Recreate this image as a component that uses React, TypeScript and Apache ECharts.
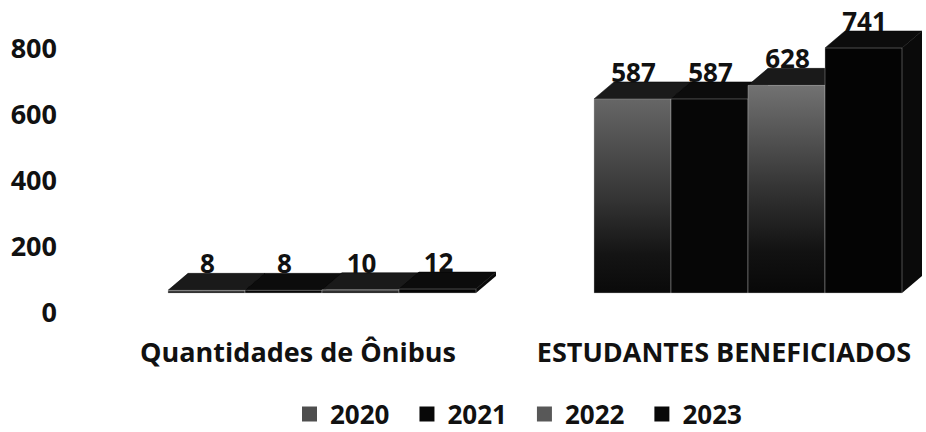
import React, { useEffect, useRef } from "react";
import * as echarts from "echarts";

const CATEGORIES = ["Quantidades de Ônibus", "ESTUDANTES BENEFICIADOS"];
const YEARS = ["2020", "2021", "2022", "2023"];
const V2020 = [8, 587];
const V2021 = [8, 587];
const V2022 = [10, 628];
const V2023 = [12, 741];
const SERIES_VALUES = [V2020, V2021, V2022, V2023];
const Y_MIN = 0;
const Y_MAX = 800;
const Y_INTERVAL = 200;

const FONT = '"Open Sans", "Noto Sans", sans-serif';
const DX = 20;
const DY = -17;
const GROUP_RATIO = 0.723;

const frontFills = [
  () => new echarts.graphic.LinearGradient(0, 0, 0, 1, [
    { offset: 0, color: "#666666" },
    { offset: 0.5, color: "#363636" },
    { offset: 0.8, color: "#141414" },
    { offset: 1, color: "#0a0a0a" },
  ]),
  () => "#060606",
  () => new echarts.graphic.LinearGradient(0, 0, 0, 1, [
    { offset: 0, color: "#727272" },
    { offset: 0.5, color: "#333333" },
    { offset: 0.8, color: "#121212" },
    { offset: 1, color: "#080808" },
  ]),
  () => "#040404",
];
const legendColors = ["#4e4e4e", "#080808", "#585858", "#080808"];

function makeRender(si: number) {
  return (params: any, api: any) => {
    const cat = api.value(0);
    const val = api.value(1);
    const base = api.coord([cat, 0]);
    const top = api.coord([cat, val]);
    const band = api.size([1, 0])[0];
    const groupW = band * GROUP_RATIO;
    const bw = groupW / 4;
    const x0 = base[0] - groupW / 2 + si * bw;
    const x1 = x0 + bw;
    const yb = base[1];
    const yt = top[1];
    return {
      type: "group",
      children: [
        {
          type: "polygon",
          shape: { points: [[x1, yt], [x1 + DX, yt + DY], [x1 + DX, yb + DY], [x1, yb]] },
          style: { fill: "#0a0a0a" },
        },
        {
          type: "polygon",
          shape: { points: [[x0, yt], [x0 + DX, yt + DY], [x1 + DX, yt + DY], [x1, yt]] },
          style: { fill: si % 2 === 0 ? "#1a1a1a" : "#0c0c0c", stroke: "#000", lineWidth: 0.5 },
        },
        {
          type: "rect",
          shape: { x: x0, y: yt, width: bw, height: Math.max(yb - yt, 0) },
          style: { fill: frontFills[si](), stroke: "#bbbbbb", lineWidth: 0.4 },
        },
        {
          type: "text",
          style: {
            text: String(val),
            x: x0 + bw / 2 + 1,
            y: yt + DY + 3,
            align: "center",
            verticalAlign: "bottom",
            fontSize: 26,
            fontWeight: "bold",
            fontFamily: FONT,
            fill: "#111",
          },
        },
      ],
    };
  };
}

export default function App() {
  const ref = useRef<HTMLDivElement>(null);
  useEffect(() => {
    document.body.style.margin = "0";
    if (!ref.current) return;
    const chart = echarts.init(ref.current, null, { renderer: "svg" });
    const catRich = { fontSize: 27, fontWeight: "bold", fontFamily: FONT, color: "#111", padding: [0, 48, 0, 0] };
    chart.setOption({
      animation: false,
      backgroundColor: "#ffffff",
      legend: {
        top: 400,
        left: 302,
        icon: "rect",
        itemWidth: 15,
        itemHeight: 15,
        itemGap: 30,
        padding: 0,
        data: YEARS,
        textStyle: {
          fontSize: 26,
          lineHeight: 28,
          fontWeight: "bold",
          fontFamily: FONT,
          color: "#111",
          padding: [0, 0, 0, 8],
        },
      },
      grid: [
        { left: 322, width: 426, top: 28.5, height: 264.5, outerBoundsMode: "none", containLabel: false },
        { left: 65, width: 10, top: 47, height: 264, outerBoundsMode: "none", containLabel: false },
      ],
      xAxis: [
        {
          gridIndex: 0,
          type: "category",
          data: CATEGORIES,
          boundaryGap: false,
          axisLine: { show: false },
          axisTick: { show: false },
          axisLabel: {
            interval: 0,
            hideOverlap: false,
            margin: 43,
            lineHeight: 30,
            color: "#111",
            fontSize: 27,
            fontWeight: "bold",
            fontFamily: FONT,
            formatter: (v: string) => "{a|" + v + "}",
            rich: { a: catRich },
          },
        },
        { gridIndex: 1, type: "value", show: false },
      ],
      yAxis: [
        { gridIndex: 0, type: "value", min: Y_MIN, max: Y_MAX, interval: Y_INTERVAL, show: false },
        {
          gridIndex: 1,
          type: "value",
          min: Y_MIN,
          max: Y_MAX,
          interval: Y_INTERVAL,
          axisLine: { show: false },
          axisTick: { show: false },
          splitLine: { show: false },
          axisLabel: { margin: 8, color: "#111", fontSize: 27, fontWeight: "bold", fontFamily: FONT },
        },
      ],
      series: YEARS.map((y, si) => ({
        name: y,
        type: "custom",
        xAxisIndex: 0,
        yAxisIndex: 0,
        itemStyle: { color: legendColors[si] },
        renderItem: makeRender(si),
        data: CATEGORIES.map((c, ci) => [ci, SERIES_VALUES[si][ci]]),
      })),
    });
    return () => chart.dispose();
  }, []);
  return <div ref={ref} style={{ width: 926, height: 432 }} />;
}
